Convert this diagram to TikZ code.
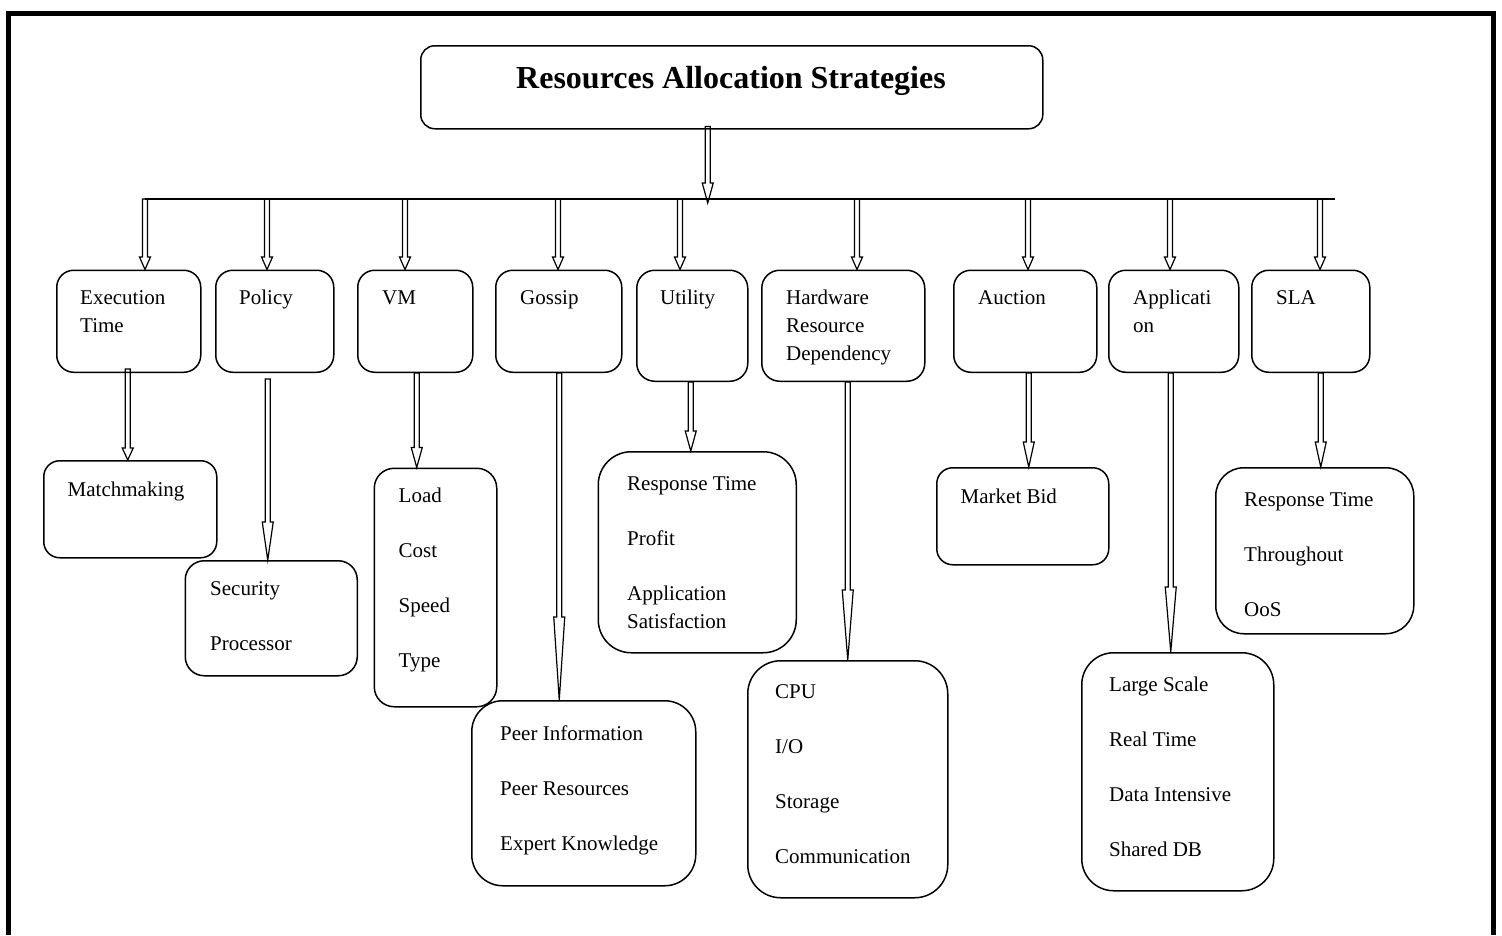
\documentclass[tikz,border=0pt]{standalone}
\usepackage{fontspec}
\setmainfont{Liberation Serif}
\usetikzlibrary{calc}
\tikzset{
  box/.style={draw,line width=1.5pt,anchor=north west,inner sep=0pt},
  txt/.style={anchor=base west,inner sep=0pt,font=\fontsize{21}{28}\selectfont},
  arr/.style={draw,line width=1.2pt,line join=miter}
}
\newcommand{\lines}[1]{\begin{tabular}[t]{@{}l@{}}#1\end{tabular}}
% hollow block arrow: start, end level, head length
\newcommand{\barrow}[3]{%
  \coordinate (s) at #1;
  \coordinate (t) at (s |- #2);
  \draw[arr] ($(s)+(-2.5,0)$) -- ($(t)+(-2.5,-#3)$) -- ($(t)+(-5.5,-#3)$) -- (t)
    -- ($(t)+(5.5,-#3)$) -- ($(t)+(2.5,-#3)$) -- ($(s)+(2.5,0)$) -- cycle;}
\begin{document}
\begin{tikzpicture}[x=1pt,y=-1pt]
\useasboundingbox (0,0) rectangle (1502,935);
\draw[line width=5pt] (8.5,935) -- (8.5,13.5) -- (1493.5,13.5) -- (1493.5,935);
% top
\node[box,minimum width=622,minimum height=83,rounded corners=14] (top) at (420,45) {};
\node[anchor=base,inner sep=0pt,font=\fontsize{32}{38}\selectfont\bfseries] (top-t) at (731,88) {Resources Allocation Strategies};
% first level
\node[box,minimum width=144,minimum height=102,rounded corners=17] (exec) at (56,269.5) {};
\node[box,minimum width=118,minimum height=102,rounded corners=17] (pol) at (215,269.5) {};
\node[box,minimum width=115,minimum height=102,rounded corners=17] (vm) at (357,269.5) {};
\node[box,minimum width=126,minimum height=102,rounded corners=17] (gos) at (495,269.5) {};
\node[box,minimum width=111,minimum height=111,rounded corners=18] (uti) at (636,269.5) {};
\node[box,minimum width=163,minimum height=111,rounded corners=18] (hw) at (761,269.5) {};
\node[box,minimum width=143,minimum height=102,rounded corners=17] (auc) at (953,269.5) {};
\node[box,minimum width=130,minimum height=102,rounded corners=17] (app) at (1108,269.5) {};
\node[box,minimum width=118,minimum height=102,rounded corners=17] (sla) at (1251,269.5) {};
\node[txt] (exec-t) at ($(exec.north west)+(24,35)$) {\lines{Execution\\Time}};
\node[txt] (pol-t) at ($(pol.north west)+(24,35)$) {Policy};
\node[txt] (vm-t) at ($(vm.north west)+(25,35)$) {VM};
\node[txt] (gos-t) at ($(gos.north west)+(25,35)$) {Gossip};
\node[txt] (uti-t) at ($(uti.north west)+(24,35)$) {Utility};
\node[txt] (hw-t) at ($(hw.north west)+(25,35)$) {\lines{Hardware\\Resource\\Dependency}};
\node[txt] (auc-t) at ($(auc.north west)+(25,35)$) {Auction};
\node[txt] (app-t) at ($(app.north west)+(25,35)$) {\lines{Applicati\\on}};
\node[txt] (sla-t) at ($(sla.north west)+(25,35)$) {SLA};
% second level
\node[box,minimum width=173,minimum height=97,rounded corners=16] (mm) at (43,460) {};
\node[box,minimum width=172,minimum height=115,rounded corners=19] (sec) at (184.5,560) {};
\node[box,minimum width=122.5,minimum height=238.5,rounded corners=20] (load) at (373.5,467.5) {};
\node[box,minimum width=224,minimum height=185,rounded corners=31] (peer) at (471,700) {};
\node[box,minimum width=198,minimum height=201,rounded corners=33] (resp) at (597.5,451) {};
\node[box,minimum width=200,minimum height=237,rounded corners=33] (cpu) at (747,660) {};
\node[box,minimum width=172,minimum height=97,rounded corners=16] (bid) at (936,467) {};
\node[box,minimum width=192,minimum height=238,rounded corners=32] (large) at (1081,652) {};
\node[box,minimum width=198,minimum height=166,rounded corners=28] (rt) at (1215,467) {};
\node[txt] (mm-t) at ($(mm.north west)+(24.5,36.5)$) {Matchmaking};
\node[txt] (sec-t) at ($(sec.north west)+(25.5,35)$) {\lines{Security\\[27pt]Processor}};
\node[txt] (load-t) at ($(load.north west)+(25,35)$) {\lines{Load\\[27pt]Cost\\[27pt]Speed\\[27pt]Type}};
\node[txt] (peer-t) at ($(peer.north west)+(29,40)$) {\lines{Peer Information\\[27pt]Peer Resources\\[27pt]Expert Knowledge}};
\node[txt] (resp-t) at ($(resp.north west)+(29.5,39)$) {\lines{Response Time\\[27pt]Profit\\[27pt]Application\\Satisfaction}};
\node[txt] (cpu-t) at ($(cpu.north west)+(28,38)$) {\lines{CPU\\[27pt]I/O\\[27pt]Storage\\[27pt]Communication}};
\node[txt] (bid-t) at ($(bid.north west)+(24.5,36)$) {Market Bid};
\node[txt] (large-t) at ($(large.north west)+(28,39)$) {\lines{Large Scale\\[27pt]Real Time\\[27pt]Data Intensive\\[27pt]Shared DB}};
\node[txt] (rt-t) at ($(rt.north west)+(29,39)$) {\lines{Response Time\\[27pt]Throughout\\[27pt]OoS}};
% bus and arrows
\coordinate (busR) at (1335,199);
\coordinate (busTip) at ([yshift=-4pt]busR);
\foreach \x/\n in {145/exec,267/pol,405/vm,558/gos,680/uti,857/hw,1028/auc,1170/app,1320/sla}
  \coordinate (b-\n) at (\x,199);
\draw[line width=1.5pt] (b-exec) -- (busR);
\barrow{([xshift=-24pt,yshift=3pt]top.south)}{busTip}{20}
\foreach \n in {exec,pol,vm,gos,uti,hw,auc,app,sla}
  {\barrow{(b-\n)}{\n.north}{12.5}}
\barrow{([xshift=-1pt,yshift=4pt]exec.south)}{mm.north}{12}
\barrow{([xshift=-7pt,yshift=-6pt]pol.south)}{sec.north}{38}
\barrow{([xshift=1.5pt]vm.south)}{load.north}{20}
\barrow{([xshift=0.5pt]gos.south)}{peer.north}{83}
\barrow{([xshift=-1.5pt]uti.south)}{resp.north}{20}
\barrow{([xshift=4.5pt]hw.south)}{cpu.north}{70}
\barrow{([xshift=3.5pt]auc.south)}{bid.north}{25}
\barrow{([xshift=-3pt]app.south)}{large.north}{65}
\barrow{([xshift=10pt]sla.south)}{rt.north}{25}
\end{tikzpicture}
\end{document}
